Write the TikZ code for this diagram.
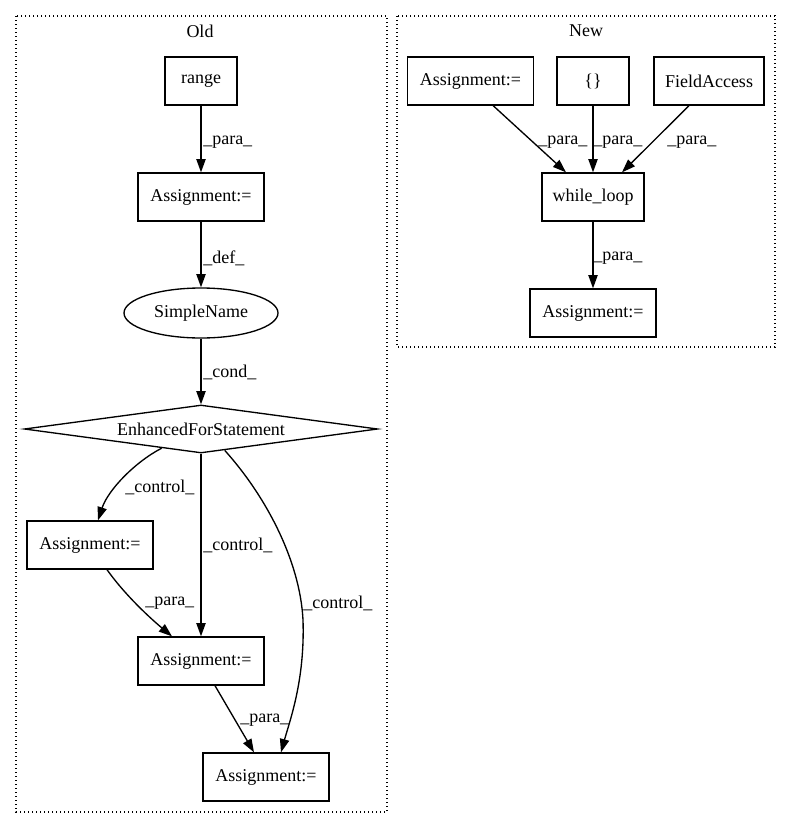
\documentclass[tikz,border=0pt]{standalone}
\usepackage{fontspec}
\setmainfont{Liberation Serif}
\usetikzlibrary{shapes.geometric,arrows.meta}

\begin{document}
\begin{tikzpicture}[x=0.75pt,y=-0.75pt]
    \tikzstyle{arrow} = [-{Triangle[length=10pt,width=7pt]}, line width=1pt]
    \tikzstyle{rec} = [rectangle, draw=black, line width=1pt, inner sep=0pt,
        minimum width=94.5pt, minimum height=36pt,
        font=\fontsize{13.5}{16}\selectfont]
    \tikzstyle{lbl} = [anchor=west, inner sep=0pt,
        font=\fontsize{13.5}{16}\selectfont]
    \tikzstyle{cluster} = [draw=black, dotted, line width=1pt]

    \useasboundingbox (0,0) rectangle (792,828);
    \draw[cluster] (16,16) rectangle (387,812);
    \draw[cluster] (397,16) rectangle (775,347);

    \node(oldtitle) [lbl, anchor=center] at (200,31) {Old};
    \node(newtitle) [lbl, anchor=center] at (586,31) {New};

    \node(range) [rec, minimum width=54pt] at (201,81) {range};
    \node(asg1) [rec] at (201,197) {Assignment:=};
    \node(simple) [ellipse, draw=black, line width=1pt, inner sep=0pt,
        minimum width=115.5pt, minimum height=37.5pt,
        font=\fontsize{13.5}{16}\selectfont]
        at (201,313) {SimpleName};
    \node(efs) [diamond, aspect=7.35, draw=black, line width=1pt,
        inner sep=0pt, minimum width=265pt, minimum height=36pt,
        font=\fontsize{13.5}{16}\selectfont]
        at (201,429) {EnhancedForStatement};
    \node(asg2) [rec] at (90,545) {Assignment:=};
    \node(asg3) [rec] at (201,661) {Assignment:=};
    \node(asg4) [rec] at (266,777) {Assignment:=};

    \node(nasg1) [rec] at (470.5,81) {Assignment:=};
    \node(brace) [rec, minimum width=54pt] at (593,81) {\{\}};
    \node(field) [rec, minimum width=82.5pt] at (709,81) {FieldAccess};
    \node(loop) [rec, minimum width=76.5pt] at (593,197) {while\_loop};
    \node(nasg2) [rec] at (593,313) {Assignment:=};

    \draw[arrow] (range) -- (asg1);
    \draw[arrow] (asg1) -- (simple);
    \draw[arrow] (simple) -- (efs);
    \draw[arrow] (efs.206.6) .. controls (135,462) and (108,490)
        .. ([xshift=6pt]asg2.north);
    \draw[arrow] (efs) -- (asg3);
    \draw[arrow] (efs.-42) .. controls (265,495) and (300,560) .. (303,620)
        .. controls (305,680) and (290,720) .. ([xshift=11.25pt]asg4.north);
    \draw[arrow] ([xshift=12.75pt]asg2.south) .. controls (125,595) and
        (150,618) .. ([xshift=-21.75pt]asg3.north);
    \draw[arrow] ([xshift=10.5pt]asg3.south) -- ([xshift=-9pt]asg4.north);

    \draw[arrow] ([xshift=17pt]nasg1.south) -- ([xshift=-20.25pt]loop.north);
    \draw[arrow] (brace) -- (loop);
    \draw[arrow] ([xshift=-15pt]field.south) -- ([xshift=21.75pt]loop.north);
    \draw[arrow] (loop) -- (nasg2);

    \node(lpara1) [lbl] at (203,142) {\_para\_};
    \node(ldef) [lbl] at (203,258) {\_def\_};
    \node(lcond) [lbl] at (203,372) {\_cond\_};
    \node(lctrl1) [lbl] at (125,487) {\_control\_};
    \node(lctrl2) [lbl] at (203,545) {\_control\_};
    \node(lctrl3) [lbl] at (303,603) {\_control\_};
    \node(lpara2) [lbl] at (145,603) {\_para\_};
    \node(lpara3) [lbl] at (240,720) {\_para\_};

    \node(lnpara1) [lbl] at (538,142) {\_para\_};
    \node(lnpara2) [lbl] at (593,142) {\_para\_};
    \node(lnpara3) [lbl] at (667,142) {\_para\_};
    \node(lnpara4) [lbl] at (593,258) {\_para\_};
\end{tikzpicture}
\end{document}
